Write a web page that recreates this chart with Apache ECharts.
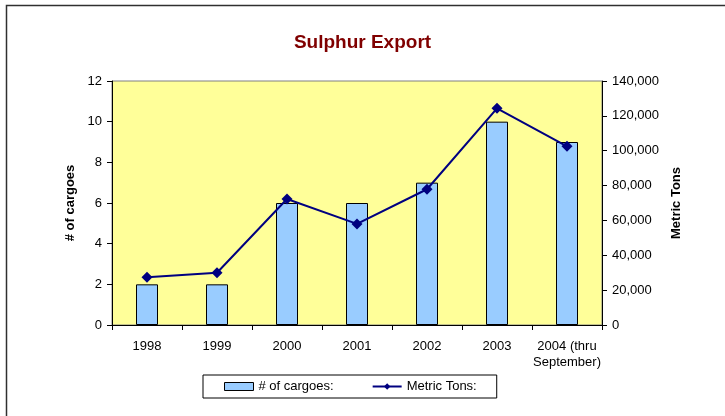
<!DOCTYPE html>
<html>
<head>
<meta charset="utf-8">
<script src="https://cdn.jsdelivr.net/npm/echarts@6/dist/echarts.min.js"></script>
<style>html,body{margin:0;padding:0;background:#fff}#c{width:725px;height:416px}</style>
</head>
<body>
<div id="c"></div>
<script>
var categories = ['1998', '1999', '2000', '2001', '2002', '2003', '2004 (thru\nSeptember)'];
var cargoes = [2, 2, 6, 6, 7, 10, 9];
var metricTons = [27400, 30000, 72300, 58000, 77900, 124300, 102500];
var leftTicks = [0, 2, 4, 6, 8, 10, 12];
var rightTicks = [0, 20000, 40000, 60000, 80000, 100000, 120000, 140000];

var chart = echarts.init(document.getElementById('c'), null, {renderer: 'canvas'});
var font = 'Liberation Sans, Arial, sans-serif';
chart.setOption({
  animation: false,
  backgroundColor: '#ffffff',
  textStyle: {fontFamily: font},
  title: {
    text: 'Sulphur Export',
    left: 'center',
    top: 28,
    textStyle: {color: '#800000', fontSize: 19, fontWeight: 'bold', fontFamily: font}
  },
  graphic: [{
    type: 'rect',
    shape: {x: 6.5, y: 5.5, width: 730, height: 420},
    style: {fill: 'none', stroke: '#303030', lineWidth: 1.5},
    silent: true
  }],
  grid: {
    left: 112, right: 123, top: 81, height: 244,
    show: true, backgroundColor: '#FFFF99', borderColor: '#808080', borderWidth: 1
  },
  legend: {
    left: 203, top: 375,
    padding: [5, 20, 5, 21],
    itemGap: 38,
    itemWidth: 29, itemHeight: 8,
    borderColor: '#000', borderWidth: 1,
    textStyle: {fontSize: 13, color: '#000', fontFamily: font},
    data: [
      {name: '# of cargoes:', icon: 'rect', itemStyle: {color: '#99CCFF', borderColor: '#000', borderWidth: 1}},
      {name: 'Metric Tons:'}
    ]
  },
  xAxis: {
    type: 'category',
    data: categories,
    axisLine: {lineStyle: {color: '#000'}},
    axisTick: {show: true, length: 5, alignWithLabel: false, lineStyle: {color: '#000'}},
    axisLabel: {color: '#000', fontSize: 13, margin: 13, lineHeight: 16, interval: 0, fontFamily: font}
  },
  yAxis: [{
    type: 'value', min: 0, max: 12, interval: 2,
    name: '# of cargoes', nameLocation: 'middle', nameGap: 34, nameRotate: 90,
    nameTextStyle: {fontSize: 13, fontWeight: 'bold', color: '#000', fontFamily: font},
    axisLine: {show: true, lineStyle: {color: '#000'}},
    axisTick: {show: true, length: 5, lineStyle: {color: '#000'}},
    splitLine: {show: false},
    axisLabel: {color: '#000', fontSize: 13, margin: 10, fontFamily: font}
  }, {
    type: 'value', min: 0, max: 140000, interval: 20000,
    name: 'Metric Tons', nameLocation: 'middle', nameGap: 68, nameRotate: 90,
    nameTextStyle: {fontSize: 13, fontWeight: 'bold', color: '#000', fontFamily: font},
    axisLine: {show: true, lineStyle: {color: '#000'}},
    axisTick: {show: true, length: 5, lineStyle: {color: '#000'}},
    splitLine: {show: false},
    axisLabel: {color: '#000', fontSize: 13, margin: 10, fontFamily: font,
      formatter: function (v) { return v.toLocaleString('en-US'); }}
  }],
  series: [{
    name: '# of cargoes:',
    type: 'bar',
    yAxisIndex: 0,
    data: cargoes,
    barWidth: 22,
    itemStyle: {color: '#99CCFF', borderColor: '#000', borderWidth: 1}
  }, {
    name: 'Metric Tons:',
    type: 'line',
    yAxisIndex: 1,
    data: metricTons,
    symbol: 'diamond',
    symbolSize: 11,
    lineStyle: {color: '#000080', width: 2},
    itemStyle: {color: '#000080'}
  }]
});
</script>
</body>
</html>
